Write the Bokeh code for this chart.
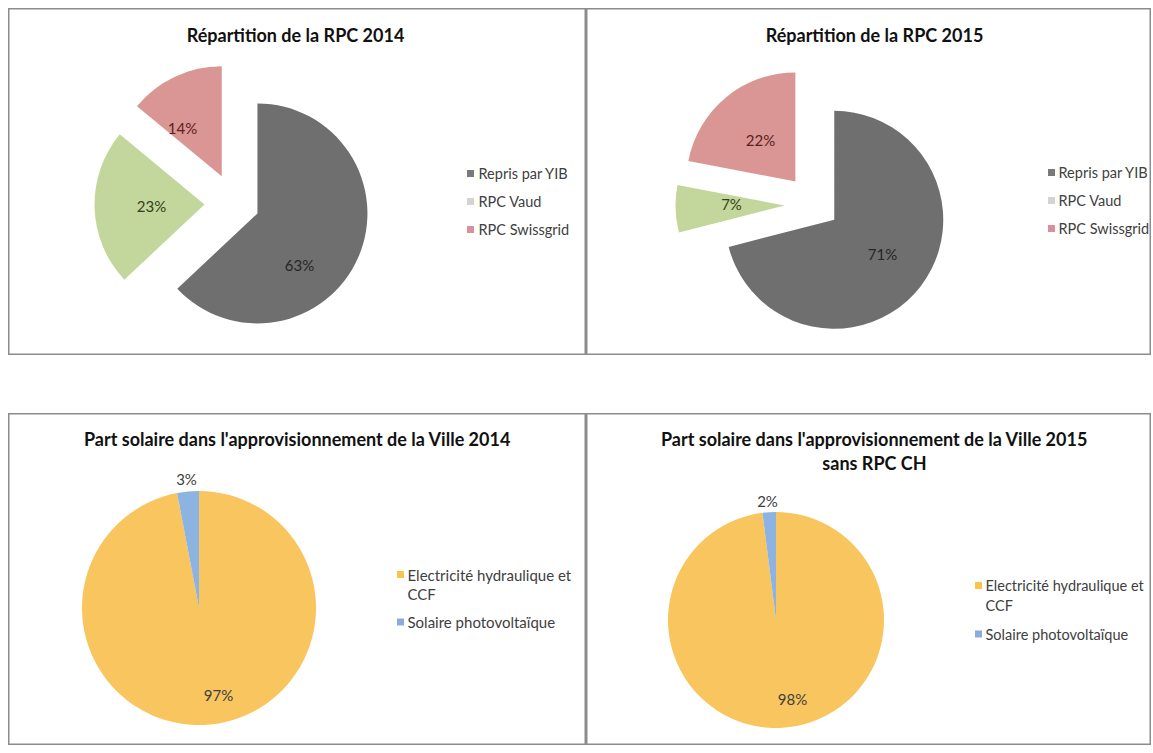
import math
import textwrap
from bokeh.plotting import figure
from bokeh.models import Range1d, Spacer, ColumnDataSource
from bokeh.layouts import column, row
from bokeh.core.properties import value
from bokeh.embed import file_html
from bokeh.resources import INLINE

# ---------------- data ----------------
rpc_categories = ["Repris par YIB", "RPC Vaud", "RPC Swissgrid"]
rpc_2014 = [63, 23, 14]
rpc_2015 = [71, 7, 22]

solar_categories = ["Electricité hydraulique et CCF", "Solaire photovoltaïque"]
solar_2014 = [97, 3]
solar_2015 = [98, 2]

title_rpc_2014 = ["Répartition de la RPC 2014"]
title_rpc_2015 = ["Répartition de la RPC 2015"]
title_solar_2014 = ["Part solaire dans l'approvisionnement de la Ville 2014"]
title_solar_2015 = ["Part solaire dans l'approvisionnement de la Ville 2015", "sans RPC CH"]

# ---------------- styles ----------------
FONT = "Lato"
rpc_slice_colors = ["#6f6f6f", "#c3d69b", "#d99694"]
rpc_label_colors = ["#262626", "#33421a", "#5c2020"]
rpc_legend_colors = ["#7a7a7a", "#d4d4d4", "#d9909c"]
solar_slice_colors = ["#f9c55e", "#8db3e2"]
solar_label_colors = ["#404040", "#404040"]
solar_legend_colors = ["#f7c54a", "#8ea9db"]


def pie_panel(W, H, vals, cats, slice_colors, label_colors, legend_colors,
              cx, cy, r, explode, label_xy, title_lines, title_xy, title_lh,
              leg_mx, leg_tx, leg_y, leg_lh, wrap, leg_fs):
    p = figure(width=W, height=H, x_range=Range1d(0, W), y_range=Range1d(0, H),
               x_axis_type=None, y_axis_type=None, toolbar_location=None,
               output_backend="svg", min_border=0)
    p.grid.visible = False
    p.outline_line_color = "#8c8c8c"
    p.outline_line_width = 2
    p.background_fill_color = "white"
    p.border_fill_color = "white"

    total = float(sum(vals))
    cum = 0.0
    xs, ys, starts, ends = [], [], [], []
    for v, e in zip(vals, explode):
        a0 = 2 * math.pi * cum / total
        cum += v
        a1 = 2 * math.pi * cum / total
        mid = (a0 + a1) / 2
        xs.append(cx + e * math.sin(mid))
        ys.append(cy + e * math.cos(mid))
        starts.append(math.pi / 2 - a1)
        ends.append(math.pi / 2 - a0)
    src = ColumnDataSource(dict(x=xs, y=ys, start=starts, end=ends, color=slice_colors))
    p.wedge(x="x", y="y", radius=r, start_angle="start", end_angle="end",
            fill_color="color", line_color=None, source=src)

    # data labels
    lsrc = ColumnDataSource(dict(x=[q[0] for q in label_xy], y=[q[1] for q in label_xy],
                                 t=[f"{v}%" for v in vals], c=label_colors))
    p.text(x="x", y="y", text="t", text_color="c", source=lsrc,
           text_font=value(FONT), text_font_size="15px",
           text_align="center", text_baseline="middle")

    # title
    for i, line in enumerate(title_lines):
        p.text(x=[title_xy[0]], y=[title_xy[1] - i * title_lh], text=[line],
               text_font=value(FONT), text_font_size="18px", text_font_style="bold",
               text_color="#111111", text_align="center", text_baseline="middle")

    # legend
    y = leg_y
    for cat, col in zip(cats, legend_colors):
        lines = textwrap.wrap(cat, wrap)
        p.scatter(x=[leg_mx], y=[y], marker="square", size=7,
                  fill_color=col, line_color=None)
        for j, ln in enumerate(lines):
            p.text(x=[leg_tx], y=[y - j * 19.5], text=[ln],
                   text_font=value(FONT), text_font_size=leg_fs,
                   text_color="#404040", text_align="left", text_baseline="middle")
        y -= leg_lh + (len(lines) - 1) * 19.5
    return p


p1 = pie_panel(578, 347, rpc_2014, rpc_categories, rpc_slice_colors, rpc_label_colors,
               rpc_legend_colors, 226, 152, 110, [25, 30, 30],
               [(291, 91), (143, 150), (174, 228)], title_rpc_2014, (287, 321), 24,
               462, 470, 182, 28, 40, "14.5px")

p2 = pie_panel(565, 347, rpc_2015, rpc_categories, rpc_slice_colors, rpc_label_colors,
               rpc_legend_colors, 228, 151, 109, [25, 30, 30],
               [(296, 102), (145, 152), (174, 216)], title_rpc_2015, (288, 321), 24,
               465, 472, 183, 28, 40, "14.5px")

p3 = pie_panel(578, 332, solar_2014, solar_categories, solar_slice_colors, solar_label_colors,
               solar_legend_colors, 190.5, 137.5, 117, [0, 0],
               [(210, 51), (178, 267)], title_solar_2014, (289, 307), 24,
               392, 399, 171, 28, 26, "15px")

p4 = pie_panel(565, 332, solar_2015, solar_categories, solar_slice_colors, solar_label_colors,
               solar_legend_colors, 189.5, 125.5, 108, [0, 0],
               [(206, 47), (181, 245)], title_solar_2015, (288, 307), 24,
               392, 399, 160, 29, 26, "14.5px")

layout = column(
    Spacer(width=1151, height=8),
    row(Spacer(width=8, height=347), p1, p2),
    Spacer(width=1151, height=58),
    row(Spacer(width=8, height=332), p3, p4),
)

open("out.html", "w").write(file_html(layout, INLINE))
